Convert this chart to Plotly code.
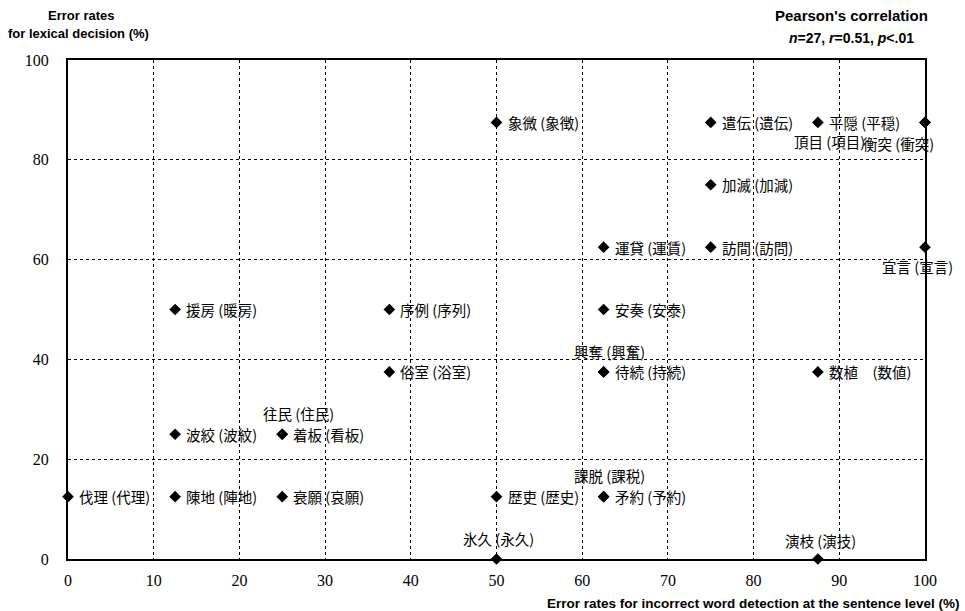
import plotly.graph_objects as go

# Data: (sentence-level error %, lexical-decision error %, label)
labels = ["象微 (象徴)", "遣伝 (遺伝)", "平隠 (平穏)", "衡突 (衝突)", "頂目 (項目)",
          "加滅 (加減)", "運貸 (運賃)", "訪間 (訪問)", "宜言 (宣言)",
          "援房 (暖房)", "序例 (序列)", "安奏 (安泰)", "興奪 (興奮)", "待続 (持続)",
          "俗室 (浴室)", "数植　(数値)", "往民 (住民)", "波絞 (波紋)", "着板 (看板)",
          "伐理 (代理)", "陳地 (陣地)", "衰願 (哀願)", "歴吏 (歴史)", "課脱 (課税)",
          "矛約 (予約)", "氷久 (永久)", "演枝 (演技)"]
x_sentence = [50, 75, 87.5, 100, 100,
              75, 62.5, 75, 100,
              12.5, 37.5, 62.5, 62.5, 62.5,
              37.5, 87.5, 25, 12.5, 25,
              0, 12.5, 25, 50, 62.5,
              62.5, 50, 87.5]
y_lexical = [87.5, 87.5, 87.5, 87.5, 87.5,
             75, 62.5, 62.5, 62.5,
             50, 50, 50, 37.5, 37.5,
             37.5, 37.5, 25, 25, 25,
             12.5, 12.5, 12.5, 12.5, 12.5,
             12.5, 0, 0]
x_ticks = [0, 10, 20, 30, 40, 50, 60, 70, 80, 90, 100]
y_ticks = [0, 20, 40, 60, 80, 100]

# label placement offsets (px) for labels not placed to the right of their marker
special = {
    "頂目 (項目)": ("right", -58, -19),
    "衡突 (衝突)": ("right", 11, -21),
    "宜言 (宣言)": ("center", -8, -19),
    "興奪 (興奮)": ("center", 6, 20),
    "往民 (住民)": ("center", 16, 21),
    "課脱 (課税)": ("center", 6, 21),
    "氷久 (永久)": ("center", 2, 21),
    "演枝 (演技)": ("center", 3, 19),
}

fig = go.Figure()
fig.add_trace(go.Scatter(
    x=x_sentence, y=y_lexical, mode="markers",
    marker=dict(symbol="diamond", size=9, color="black"),
    cliponaxis=False, hoverinfo="skip", showlegend=False))

lab_font = dict(family="Noto Sans CJK JP", size=14.5, color="black")
annotations = []
for lab, xv, yv in zip(labels, x_sentence, y_lexical):
    if lab in special:
        anc, xs, ys = special[lab]
    else:
        anc, xs, ys = "left", 9, 0
    annotations.append(dict(x=xv, y=yv, xref="x", yref="y", text=lab, showarrow=False,
                            xanchor=anc, yanchor="middle", xshift=xs, yshift=ys,
                            font=lab_font))

# paper-coordinate texts via pixel conversion
W, H = 965, 611
ml, mr, mt, mb = 68, 40, 60, 52
pw, ph = W - ml - mr, H - mt - mb
def px(xp):
    return (xp - ml) / pw
def py(yp):
    return (H - mb - yp) / ph

title_font = dict(family="Liberation Sans", size=13, color="black")
annotations += [
    dict(x=px(81), y=py(15), xref="paper", yref="paper", showarrow=False,
         text="<b>Error rates</b>", xanchor="center", yanchor="middle", font=title_font),
    dict(x=px(78), y=py(34), xref="paper", yref="paper", showarrow=False,
         text="<b>for lexical decision (%)</b>", xanchor="center", yanchor="middle", font=title_font),
    dict(x=px(851), y=py(16), xref="paper", yref="paper", showarrow=False,
         text="<b>Pearson's correlation</b>", xanchor="center", yanchor="middle",
         font=dict(family="Liberation Sans", size=15, color="black")),
    dict(x=px(851), y=py(38), xref="paper", yref="paper", showarrow=False,
         text="<b><i>n</i>=27, <i>r</i>=0.51, <i>p</i>&lt;.01</b>", xanchor="center", yanchor="middle",
         font=dict(family="Liberation Sans", size=14, color="black")),
    dict(x=px(962), y=py(603), xref="paper", yref="paper", showarrow=False,
         text="<b>Error rates for incorrect word detection at the sentence level (%)</b>",
         xanchor="right", yanchor="middle",
         font=dict(family="Liberation Sans", size=13.5, color="black")),
]

axis_common = dict(showline=True, linecolor="black", linewidth=2, mirror=True,
                   showgrid=True, gridcolor="black", gridwidth=1, griddash="dot",
                   zeroline=False, ticks="",
                   tickfont=dict(family="Liberation Serif", size=16, color="black"))
fig.update_xaxes(range=[0, 100], tickvals=x_ticks, ticktext=[str(t) for t in x_ticks],
                 ticklabelstandoff=6, **axis_common)
fig.update_yaxes(range=[0, 100], tickvals=y_ticks, ticktext=[str(t) for t in y_ticks],
                 ticklabelstandoff=14, **axis_common)

fig.update_layout(width=W, height=H, margin=dict(l=ml, r=mr, t=mt, b=mb),
                  paper_bgcolor="white", plot_bgcolor="white",
                  annotations=annotations, showlegend=False)
fig.write_html("out.html", config={"displayModeBar": False},
               post_script="document.body.style.margin='0';document.body.style.overflow='hidden';")
